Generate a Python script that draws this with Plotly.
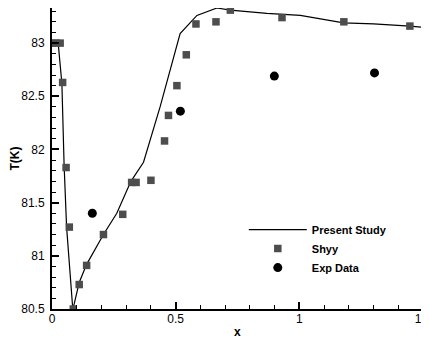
import plotly.graph_objects as go

# Present Study (line)
ps_x = [0.0, 0.025, 0.040, 0.049, 0.059, 0.084, 0.090, 0.110, 0.140, 0.208, 0.262, 0.319, 0.370,
        0.437, 0.518, 0.586, 0.667, 0.721, 0.869, 1.004, 1.179, 1.300, 1.447, 1.497]
ps_y = [83.0, 83.0, 82.62, 81.85, 81.27, 80.5, 80.55, 80.75, 80.92, 81.2, 81.4, 81.7, 81.88,
        82.4, 83.09, 83.26, 83.33, 83.31, 83.28, 83.26, 83.19, 83.18, 83.16, 83.15]

# Shyy (squares)
shyy_x = [0.0, 0.016, 0.033, 0.043, 0.057, 0.070, 0.086, 0.110, 0.140, 0.208, 0.286, 0.322,
          0.340, 0.400, 0.455, 0.471, 0.505, 0.543, 0.582, 0.663, 0.721, 0.930, 1.180, 1.447]
shyy_y = [83.0, 83.0, 83.0, 82.63, 81.83, 81.27, 80.5, 80.73, 80.91, 81.2, 81.39, 81.69,
          81.69, 81.71, 82.08, 82.32, 82.6, 82.89, 83.18, 83.2, 83.31, 83.24, 83.2, 83.16]

# Exp Data (circles)
exp_x = [0.163, 0.519, 0.899, 1.304]
exp_y = [81.4, 82.36, 82.69, 82.72]

xticks = [0, 0.5, 1, 1.5]
xtick_labels = ["0", "0.5", "1", "1.5"]
yticks = [80.5, 81, 81.5, 82, 82.5, 83]
ytick_labels = ["80.5", "81", "81.5", "82", "82.5", "83"]

FONT = "Liberation Sans, Arial, sans-serif"

fig = go.Figure()
fig.add_trace(go.Scatter(x=ps_x, y=ps_y, mode="lines", name="Present Study",
                         line=dict(color="black", width=1.2)))
fig.add_trace(go.Scatter(x=shyy_x, y=shyy_y, mode="markers", name="Shyy",
                         marker=dict(symbol="square", size=7.5, color="#4d4d4d",
                                     line=dict(width=0))))
fig.add_trace(go.Scatter(x=exp_x, y=exp_y, mode="markers", name="Exp Data",
                         marker=dict(symbol="circle", size=9, color="black",
                                     line=dict(width=0))))

fig.update_layout(
    width=429, height=338,
    margin=dict(l=44, r=14, t=0, b=37, autoexpand=False),
    paper_bgcolor="white", plot_bgcolor="white",
    font=dict(family=FONT, size=12, color="black"),
    showlegend=True,
    legend=dict(x=0.517, y=0.312, xanchor="left", yanchor="top",
                bgcolor="rgba(0,0,0,0)", itemwidth=58, tracegroupgap=0,
                font=dict(family=FONT, size=11, color="black", weight="bold")),
    xaxis=dict(range=[0, 1.5], tickvals=xticks, ticktext=xtick_labels, automargin=False,
               showgrid=False, zeroline=False, showline=True, linecolor="black", linewidth=1.5,
               ticks="inside", ticklen=7, tickwidth=1.5, tickcolor="black",
               ticklabelstandoff=-2,
               minor=dict(dtick=0.1, ticks="inside", ticklen=4, tickwidth=1, tickcolor="black")),
    yaxis=dict(range=[80.5, 83.33], tickvals=yticks, ticktext=ytick_labels, automargin=False,
               showgrid=False, zeroline=False, showline=True, linecolor="black", linewidth=2,
               ticks="inside", ticklen=7, tickwidth=1.5, tickcolor="black",
               ticklabelstandoff=3,
               minor=dict(dtick=0.1, ticks="inside", ticklen=4, tickwidth=1, tickcolor="black"),
               title=dict(text="T(K)", font=dict(family=FONT, size=12, weight="bold"), standoff=8)),
    annotations=[dict(text="x", xref="paper", yref="paper", x=0.5, y=0, yshift=-23,
                      xanchor="center", yanchor="middle", showarrow=False,
                      font=dict(family=FONT, size=12, weight="bold"))],
)

fig.write_html("out.html")
